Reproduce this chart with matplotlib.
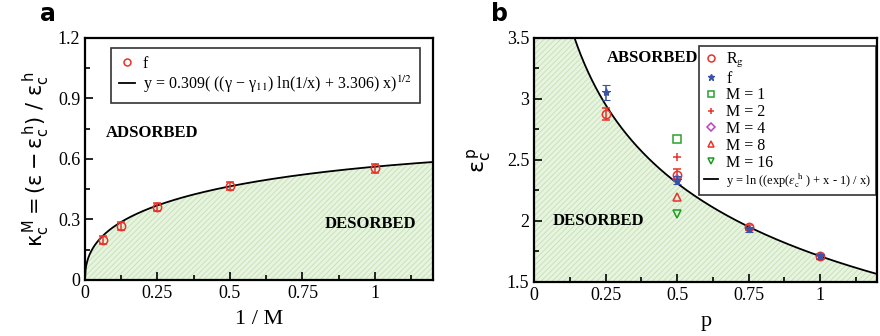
import numpy as np
import matplotlib
matplotlib.use("Agg")
import matplotlib.pyplot as plt
from matplotlib.lines import Line2D
from matplotlib.ticker import MultipleLocator

plt.rcParams['font.family'] = ['Liberation Serif', 'DejaVu Sans']
plt.rcParams['mathtext.fontset'] = 'stix'
plt.rcParams['hatch.linewidth'] = 0.7

# ---- panel a data: crossover exponent vs 1/M ----
inv_m = [1/16, 1/8, 1/4, 1/2, 1.0]
kappa = [0.198, 0.270, 0.362, 0.466, 0.553]
kappa_err = [0.022, 0.020, 0.020, 0.020, 0.022]
fit_a_coef = 0.309
fit_a_gamma_diff = 1.75
fit_a_const = 3.306

# ---- panel b data: critical adsorption energy vs p ----
p_rg = [0.25, 0.5, 0.75, 1.0]
eps_rg = [2.878, 2.379, 1.947, 1.711]
eps_rg_err = [0.05, 0.05, 0.02, 0.02]
p_f = [0.25, 0.5, 0.75, 1.0]
eps_f = [3.053, 2.336, 1.933, 1.711]
eps_f_err = [0.06, 0.03, 0.02, 0.02]
p_m = 0.5
m_labels = ['M = 1', 'M = 2', 'M = 4', 'M = 8', 'M = 16']
m_values = [2.67, 2.52, 2.34, 2.193, 2.06]
m_markers = ['s', '+', 'D', '^', 'v']
m_colors = ['#2ca02c', '#e8322a', '#c040c0', '#e8322a', '#1f9a1f']
eps_h = 1.711

red = '#e8322a'
blue = '#3a53a4'
fill_face = '#e8f4e0'
fill_hatch = '#c6e3b8'

fig = plt.figure(figsize=(8.8, 3.36), dpi=100)
axa = fig.add_axes([0.0966, 0.1667, 0.3954, 0.7203])
axb = fig.add_axes([0.607, 0.161, 0.39, 0.726])


def style_axes(ax, xmaj, xmin, ymaj, ymin):
    for s in ax.spines.values():
        s.set_linewidth(1.6)
    ax.xaxis.set_major_locator(MultipleLocator(xmaj))
    ax.xaxis.set_minor_locator(MultipleLocator(xmin))
    ax.yaxis.set_major_locator(MultipleLocator(ymaj))
    ax.yaxis.set_minor_locator(MultipleLocator(ymin))
    ax.tick_params(which='both', direction='in', top=False, right=False,
                   labelsize=13, width=1.2)
    ax.tick_params(which='major', length=6)
    ax.tick_params(which='minor', length=3.5)
    ax.xaxis.set_major_formatter(plt.FuncFormatter(lambda v, pos: f"{v:g}"))
    ax.yaxis.set_major_formatter(plt.FuncFormatter(lambda v, pos: f"{v:g}"))


# ---------------- panel a ----------------
xa = np.linspace(1e-6, 1.2, 600)
ya = fit_a_coef * np.sqrt((fit_a_gamma_diff * np.log(1 / xa) + fit_a_const) * xa)
axa.fill_between(xa, 0, ya, facecolor=fill_face, edgecolor=fill_hatch,
                 hatch='//////', linewidth=0, zorder=1)
axa.plot(xa, ya, color='black', lw=1.3, zorder=3)
axa.errorbar(inv_m, kappa, yerr=kappa_err, fmt='o', mfc='none', mec=red,
             ecolor=red, ms=6, mew=1.1, capsize=3, elinewidth=1.1, zorder=4)
axa.set_xlim(0, 1.2)
axa.set_ylim(0, 1.2)
style_axes(axa, 0.25, 0.125, 0.3, 0.15)
axa.set_xlabel('1 / M', fontsize=16, labelpad=6)
axa.set_ylabel(r'$\mathrm{\kappa_c^{\,M} = (\varepsilon - \varepsilon_c^{\,h})\ /\ \varepsilon_c^{\,h}}$',
               fontsize=15, math_fontfamily='dejavusans', labelpad=4)
axa.text(0.072, 0.73, 'ADSORBED', fontsize=12, fontweight='bold', va='center', zorder=5)
axa.text(0.828, 0.278, 'DESORBED', fontsize=12, fontweight='bold', va='center', zorder=5)

ha = [Line2D([], [], ls='none', marker='o', mfc='none', mec=red, ms=5, mew=1.1),
      Line2D([], [], color='black', lw=1.3)]
la = ['f', r'y = 0.309( ((γ − γ$_{11}$) ln(1/x) + 3.306) x)$^{1/2}$']
lega = axa.legend(ha, la, loc='upper left', bbox_to_anchor=(0.074, 0.96),
                  fontsize=11.5, frameon=True, fancybox=False, edgecolor='black',
                  handlelength=1.0, handletextpad=0.5, labelspacing=0.1,
                  borderpad=0.5, borderaxespad=0)
lega.get_frame().set_linewidth(1.2)

# ---------------- panel b ----------------
xb = np.linspace(0.12, 1.2, 600)
yb = np.log((np.exp(eps_h) + xb - 1) / xb)
xfill = np.linspace(1e-6, 1.2, 800)
yfill = np.minimum(np.log((np.exp(eps_h) + xfill - 1) / xfill), 3.5)
axb.fill_between(xfill, 1.5, yfill, facecolor=fill_face, edgecolor=fill_hatch,
                 hatch='//////', linewidth=0, zorder=1)
axb.plot(xb, yb, color='black', lw=1.3, zorder=3)
axb.errorbar(p_rg, eps_rg, yerr=eps_rg_err, fmt='o', mfc='none', mec=red,
             ecolor=red, ms=6, mew=1.1, capsize=3, elinewidth=1.1, zorder=4)
axb.errorbar(p_f, eps_f, yerr=eps_f_err, fmt='*', mfc=blue, mec=blue,
             ecolor=blue, ms=6, mew=0.8, capsize=3, elinewidth=1.1, zorder=5)
for val, mk, col in zip(m_values, m_markers, m_colors):
    axb.plot([p_m], [val], ls='none', marker=mk, mfc='none', mec=col,
             ms=5.5 if mk != 'D' else 4.5, mew=1.1, zorder=4)
axb.set_xlim(0, 1.2)
axb.set_ylim(1.5, 3.5)
style_axes(axb, 0.25, 0.125, 0.5, 0.25)
axb.set_xlabel('p', fontsize=16, labelpad=6)
axb.set_ylabel(r'$\mathrm{\varepsilon_c^{\,p}}$', fontsize=16, math_fontfamily='dejavusans',
               labelpad=10)
axb.text(0.253, 3.336, 'ABSORBED', fontsize=12, fontweight='bold', va='center', zorder=6)
axb.text(0.066, 2.0, 'DESORBED', fontsize=12, fontweight='bold', va='center', zorder=6)

hb = [Line2D([], [], ls='none', marker='o', mfc='none', mec=red, ms=5, mew=1.1),
      Line2D([], [], ls='none', marker='*', mfc=blue, mec=blue, ms=5)]
lb = [r'R$_{\rm g}$', 'f']
for lab, mk, col in zip(m_labels, m_markers, m_colors):
    hb.append(Line2D([], [], ls='none', marker=mk, mfc='none', mec=col,
                     ms=4.5 if mk != 'D' else 4, mew=1.1))
    lb.append(lab)
hb.append(Line2D([], [], color='black', lw=1.3))
lb.append(r'y = ln ((exp($\varepsilon_{\rm c}^{\;\rm h}$ ) + x - 1) / x)')
legb = axb.legend(hb, lb, loc='upper right', bbox_to_anchor=(0.997, 0.967),
                  fontsize=11.5, frameon=True, fancybox=False, edgecolor='black',
                  handlelength=0.9, handletextpad=0.5, labelspacing=0.05,
                  borderpad=0.3, borderaxespad=0)
legb.get_frame().set_linewidth(1.2)
legb.get_texts()[-1].set_fontsize(9)

fig.text(0.045, 0.937, 'a', fontsize=17, fontweight='bold', family='DejaVu Sans')
fig.text(0.558, 0.937, 'b', fontsize=17, fontweight='bold', family='DejaVu Sans')

fig.savefig('out.png', dpi=100)
